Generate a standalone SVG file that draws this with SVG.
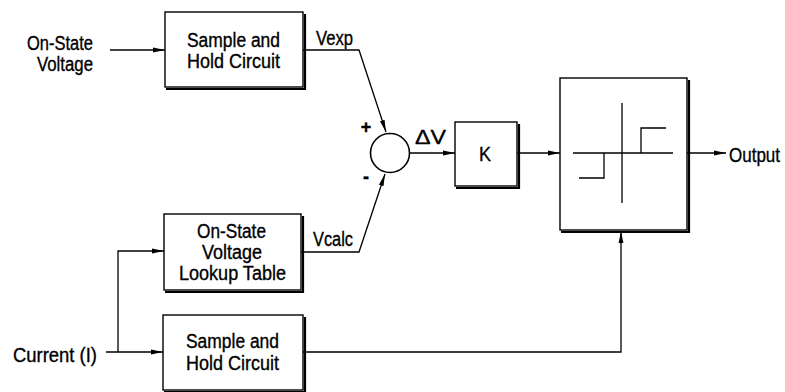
<svg xmlns="http://www.w3.org/2000/svg" width="785" height="392" viewBox="0 0 785 392">
<defs>
<marker id="arr" viewBox="0 0 12 6" refX="12" refY="3" markerWidth="12" markerHeight="6" markerUnits="userSpaceOnUse" orient="auto">
<path d="M0,0.6 L12,3 L0,5.4 Z" fill="#000"/>
</marker>
<style>
text{font-family:"Liberation Sans",Arial,sans-serif;font-size:20px;fill:#000;stroke:#000;stroke-width:0.35}
.c{text-anchor:middle}
.e{text-anchor:end}
.box{fill:#fff;stroke:#000;stroke-width:1.4}
.sh{fill:none;stroke:#000;stroke-width:2.2}
.ln{fill:none;stroke:#000;stroke-width:1.3}
</style>
</defs>
<rect width="785" height="392" fill="#fff"/>

<g id="connectors">
<path class="ln" d="M110,50 H165" marker-end="url(#arr)"/>
<path class="ln" d="M303,50 H359 L386,132" marker-end="url(#arr)"/>
<path class="ln" d="M301,252 H359 L385,174" marker-end="url(#arr)"/>
<path class="ln" d="M106,352 H163" marker-end="url(#arr)"/>
<path class="ln" d="M118,352 V251 H164" marker-end="url(#arr)"/>
<path class="ln" d="M303,352 H621 V231" marker-end="url(#arr)"/>
<path class="ln" d="M409,153 H455" marker-end="url(#arr)"/>
<path class="ln" d="M517,153 H560" marker-end="url(#arr)"/>
<path class="ln" d="M687,153 H726" marker-end="url(#arr)"/>
</g>

<g id="lbl-onstate">
<text class="e" x="93" y="50" textLength="66" lengthAdjust="spacingAndGlyphs">On-State</text>
<text class="e" x="93" y="71" textLength="56" lengthAdjust="spacingAndGlyphs">Voltage</text>
</g>
<g id="lbl-current">
<text x="13" y="362" textLength="84" lengthAdjust="spacingAndGlyphs">Current (I)</text>
</g>
<g id="lbl-vexp"><text x="316" y="45" textLength="37" lengthAdjust="spacingAndGlyphs">Vexp</text></g>
<g id="lbl-vcalc"><text x="313" y="246" textLength="40" lengthAdjust="spacingAndGlyphs">Vcalc</text></g>
<g id="lbl-dv"><text x="415" y="144" textLength="31" lengthAdjust="spacingAndGlyphs">ΔV</text></g>
<g id="lbl-out"><text x="729" y="162" textLength="51" lengthAdjust="spacingAndGlyphs">Output</text></g>

<g id="sh1">
<polyline class="sh" points="305,14 305,89 166,89"/>
<rect class="box" x="165" y="12" width="138" height="75"/>
<text x="187" y="47" textLength="93" lengthAdjust="spacingAndGlyphs">Sample and</text>
<text x="187" y="68" textLength="93" lengthAdjust="spacingAndGlyphs">Hold Circuit</text>
</g>

<g id="lookup">
<polyline class="sh" points="303,216 303,292 165,292"/>
<rect class="box" x="164" y="214" width="137" height="76"/>
<text x="197" y="238" textLength="69" lengthAdjust="spacingAndGlyphs">On-State</text>
<text x="202" y="259" textLength="60" lengthAdjust="spacingAndGlyphs">Voltage</text>
<text x="179" y="280" textLength="107" lengthAdjust="spacingAndGlyphs">Lookup Table</text>
</g>

<g id="sh2">
<polyline class="sh" points="305,317 305,392 164,392"/>
<rect class="box" x="163" y="315" width="140" height="75"/>
<text x="186" y="348" textLength="93" lengthAdjust="spacingAndGlyphs">Sample and</text>
<text x="186" y="370" textLength="93" lengthAdjust="spacingAndGlyphs">Hold Circuit</text>
</g>

<g id="sum">
<circle cx="390" cy="153" r="19.5" fill="#fff" stroke="#000" stroke-width="1.6"/>
<text class="c" x="366" y="133" style="font-size:18px;font-weight:bold">+</text>
<text class="c" x="366" y="183" style="font-size:18px;font-weight:bold">-</text>
</g>

<g id="gain">
<polyline class="sh" points="519,124 519,188 456,188"/>
<rect class="box" x="455" y="122" width="62" height="64"/>
<text x="479" y="161" textLength="12" lengthAdjust="spacingAndGlyphs">K</text>
</g>

<g id="relay">
<polyline class="sh" points="689,80 689,232 561,232"/>
<rect class="box" x="560" y="78" width="127" height="152"/>
<path class="ln" d="M573,153 H673 M622,103 V203 M579,178 H604 V153 M641,153 V128 H666"/>
</g>
</svg>
